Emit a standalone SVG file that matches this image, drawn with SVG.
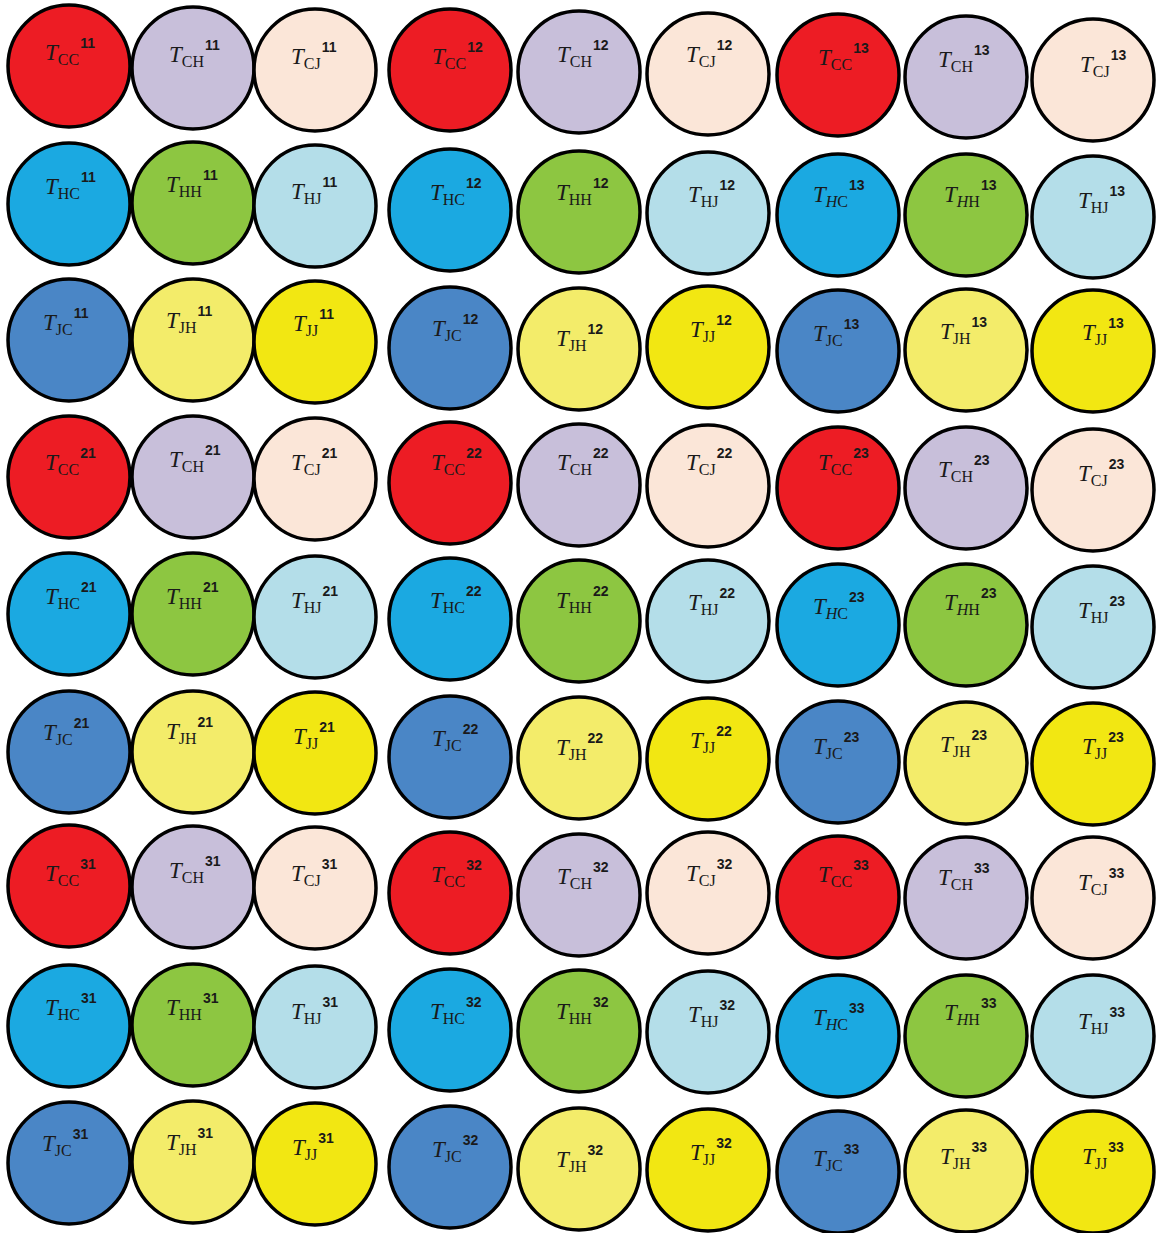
<svg xmlns="http://www.w3.org/2000/svg" width="1159" height="1233" viewBox="0 0 1159 1233">
<style>
circle{stroke:#000;stroke-width:3.5}
.cc{fill:#ED1C24}.ch{fill:#C8BFDA}.cj{fill:#FBE6D8}
.hc{fill:#1BA9E1}.hh{fill:#8DC641}.hj{fill:#B4DEE9}
.jc{fill:#4A86C6}.jh{fill:#F3EC6A}.jj{fill:#F2E712}
text{font-family:"Liberation Serif",serif;font-size:23px;font-style:italic;fill:#1a1a1a}
.s{font-style:normal;font-size:16px}
.i{font-style:italic}
.p{font-family:"Liberation Sans",sans-serif;font-size:14px;font-weight:bold;font-style:normal}
</style>
<g id="nodes">
<g id="n-CC-11"><circle class="cc" cx="69" cy="66" r="61"/><text x="45" y="60">T<tspan class="s" dy="5">CC</tspan><tspan class="p" dx="1" dy="-17">11</tspan></text></g>
<g id="n-CH-11"><circle class="ch" cx="193" cy="68" r="61"/><text x="169" y="62">T<tspan class="s" dy="5">CH</tspan><tspan class="p" dx="1" dy="-17">11</tspan></text></g>
<g id="n-CJ-11"><circle class="cj" cx="315" cy="70" r="61"/><text x="291" y="64">T<tspan class="s" dy="5">CJ</tspan><tspan class="p" dx="1" dy="-17">11</tspan></text></g>
<g id="n-CC-12"><circle class="cc" cx="450" cy="70" r="61"/><text x="432" y="64">T<tspan class="s" dy="5">CC</tspan><tspan class="p" dx="1" dy="-17">12</tspan></text></g>
<g id="n-CH-12"><circle class="ch" cx="579" cy="72" r="61"/><text x="557" y="62">T<tspan class="s" dy="5">CH</tspan><tspan class="p" dx="1" dy="-17">12</tspan></text></g>
<g id="n-CJ-12"><circle class="cj" cx="708" cy="74" r="61"/><text x="686" y="62">T<tspan class="s" dy="5">CJ</tspan><tspan class="p" dx="1" dy="-17">12</tspan></text></g>
<g id="n-CC-13"><circle class="cc" cx="838" cy="75" r="61"/><text x="818" y="65">T<tspan class="s" dy="5">CC</tspan><tspan class="p" dx="1" dy="-17">13</tspan></text></g>
<g id="n-CH-13"><circle class="ch" cx="966" cy="77" r="61"/><text x="938" y="67">T<tspan class="s" dy="5">CH</tspan><tspan class="p" dx="1" dy="-17">13</tspan></text></g>
<g id="n-CJ-13"><circle class="cj" cx="1093" cy="80" r="61"/><text x="1080" y="72">T<tspan class="s" dy="5">CJ</tspan><tspan class="p" dx="1" dy="-17">13</tspan></text></g>

<g id="n-HC-11"><circle class="hc" cx="69" cy="204" r="61"/><text x="45" y="194">T<tspan class="s" dy="5">HC</tspan><tspan class="p" dx="1" dy="-17">11</tspan></text></g>
<g id="n-HH-11"><circle class="hh" cx="193" cy="203" r="61"/><text x="166" y="192">T<tspan class="s" dy="5">HH</tspan><tspan class="p" dx="1" dy="-17">11</tspan></text></g>
<g id="n-HJ-11"><circle class="hj" cx="315" cy="206" r="61"/><text x="291" y="199">T<tspan class="s" dy="5">HJ</tspan><tspan class="p" dx="1" dy="-17">11</tspan></text></g>
<g id="n-HC-12"><circle class="hc" cx="450" cy="210" r="61"/><text x="430" y="200">T<tspan class="s" dy="5">HC</tspan><tspan class="p" dx="1" dy="-17">12</tspan></text></g>
<g id="n-HH-12"><circle class="hh" cx="579" cy="212" r="61"/><text x="556" y="200">T<tspan class="s" dy="5">HH</tspan><tspan class="p" dx="1" dy="-17">12</tspan></text></g>
<g id="n-HJ-12"><circle class="hj" cx="708" cy="213" r="61"/><text x="688" y="202">T<tspan class="s" dy="5">HJ</tspan><tspan class="p" dx="1" dy="-17">12</tspan></text></g>
<g id="n-HC-13"><circle class="hc" cx="838" cy="215" r="61"/><text x="813" y="202">T<tspan class="s" dy="5"><tspan class="i">H</tspan>C</tspan><tspan class="p" dx="1" dy="-17">13</tspan></text></g>
<g id="n-HH-13"><circle class="hh" cx="966" cy="215" r="61"/><text x="944" y="202">T<tspan class="s" dy="5"><tspan class="i">H</tspan>H</tspan><tspan class="p" dx="1" dy="-17">13</tspan></text></g>
<g id="n-HJ-13"><circle class="hj" cx="1093" cy="217" r="61"/><text x="1078" y="208">T<tspan class="s" dy="5">HJ</tspan><tspan class="p" dx="1" dy="-17">13</tspan></text></g>

<g id="n-JC-11"><circle class="jc" cx="69" cy="340" r="61"/><text x="43" y="330">T<tspan class="s" dy="5">JC</tspan><tspan class="p" dx="1" dy="-17">11</tspan></text></g>
<g id="n-JH-11"><circle class="jh" cx="193" cy="340" r="61"/><text x="166" y="328">T<tspan class="s" dy="5">JH</tspan><tspan class="p" dx="1" dy="-17">11</tspan></text></g>
<g id="n-JJ-11"><circle class="jj" cx="315" cy="342" r="61"/><text x="293" y="331">T<tspan class="s" dy="5">JJ</tspan><tspan class="p" dx="1" dy="-17">11</tspan></text></g>
<g id="n-JC-12"><circle class="jc" cx="450" cy="348" r="61"/><text x="432" y="336">T<tspan class="s" dy="5">JC</tspan><tspan class="p" dx="1" dy="-17">12</tspan></text></g>
<g id="n-JH-12"><circle class="jh" cx="579" cy="349" r="61"/><text x="556" y="346">T<tspan class="s" dy="5">JH</tspan><tspan class="p" dx="1" dy="-17">12</tspan></text></g>
<g id="n-JJ-12"><circle class="jj" cx="708" cy="347" r="61"/><text x="690" y="337">T<tspan class="s" dy="5">JJ</tspan><tspan class="p" dx="1" dy="-17">12</tspan></text></g>
<g id="n-JC-13"><circle class="jc" cx="838" cy="351" r="61"/><text x="813" y="341">T<tspan class="s" dy="5">JC</tspan><tspan class="p" dx="1" dy="-17">13</tspan></text></g>
<g id="n-JH-13"><circle class="jh" cx="966" cy="350" r="61"/><text x="940" y="339">T<tspan class="s" dy="5">JH</tspan><tspan class="p" dx="1" dy="-17">13</tspan></text></g>
<g id="n-JJ-13"><circle class="jj" cx="1093" cy="351" r="61"/><text x="1082" y="340">T<tspan class="s" dy="5">JJ</tspan><tspan class="p" dx="1" dy="-17">13</tspan></text></g>

<g id="n-CC-21"><circle class="cc" cx="69" cy="477" r="61"/><text x="45" y="470">T<tspan class="s" dy="5">CC</tspan><tspan class="p" dx="1" dy="-17">21</tspan></text></g>
<g id="n-CH-21"><circle class="ch" cx="193" cy="477" r="61"/><text x="169" y="467">T<tspan class="s" dy="5">CH</tspan><tspan class="p" dx="1" dy="-17">21</tspan></text></g>
<g id="n-CJ-21"><circle class="cj" cx="315" cy="479" r="61"/><text x="291" y="470">T<tspan class="s" dy="5">CJ</tspan><tspan class="p" dx="1" dy="-17">21</tspan></text></g>
<g id="n-CC-22"><circle class="cc" cx="450" cy="483" r="61"/><text x="431" y="470">T<tspan class="s" dy="5">CC</tspan><tspan class="p" dx="1" dy="-17">22</tspan></text></g>
<g id="n-CH-22"><circle class="ch" cx="579" cy="485" r="61"/><text x="557" y="470">T<tspan class="s" dy="5">CH</tspan><tspan class="p" dx="1" dy="-17">22</tspan></text></g>
<g id="n-CJ-22"><circle class="cj" cx="708" cy="486" r="61"/><text x="686" y="470">T<tspan class="s" dy="5">CJ</tspan><tspan class="p" dx="1" dy="-17">22</tspan></text></g>
<g id="n-CC-23"><circle class="cc" cx="838" cy="488" r="61"/><text x="818" y="470">T<tspan class="s" dy="5">CC</tspan><tspan class="p" dx="1" dy="-17">23</tspan></text></g>
<g id="n-CH-23"><circle class="ch" cx="966" cy="488" r="61"/><text x="938" y="477">T<tspan class="s" dy="5">CH</tspan><tspan class="p" dx="1" dy="-17">23</tspan></text></g>
<g id="n-CJ-23"><circle class="cj" cx="1093" cy="490" r="61"/><text x="1078" y="481">T<tspan class="s" dy="5">CJ</tspan><tspan class="p" dx="1" dy="-17">23</tspan></text></g>

<g id="n-HC-21"><circle class="hc" cx="69" cy="614" r="61"/><text x="45" y="604">T<tspan class="s" dy="5">HC</tspan><tspan class="p" dx="1" dy="-17">21</tspan></text></g>
<g id="n-HH-21"><circle class="hh" cx="193" cy="614" r="61"/><text x="166" y="604">T<tspan class="s" dy="5">HH</tspan><tspan class="p" dx="1" dy="-17">21</tspan></text></g>
<g id="n-HJ-21"><circle class="hj" cx="315" cy="617" r="61"/><text x="291" y="608">T<tspan class="s" dy="5">HJ</tspan><tspan class="p" dx="1" dy="-17">21</tspan></text></g>
<g id="n-HC-22"><circle class="hc" cx="450" cy="619" r="61"/><text x="430" y="608">T<tspan class="s" dy="5">HC</tspan><tspan class="p" dx="1" dy="-17">22</tspan></text></g>
<g id="n-HH-22"><circle class="hh" cx="579" cy="621" r="61"/><text x="556" y="608">T<tspan class="s" dy="5">HH</tspan><tspan class="p" dx="1" dy="-17">22</tspan></text></g>
<g id="n-HJ-22"><circle class="hj" cx="708" cy="621" r="61"/><text x="688" y="610">T<tspan class="s" dy="5">HJ</tspan><tspan class="p" dx="1" dy="-17">22</tspan></text></g>
<g id="n-HC-23"><circle class="hc" cx="838" cy="625" r="61"/><text x="813" y="614">T<tspan class="s" dy="5"><tspan class="i">H</tspan>C</tspan><tspan class="p" dx="1" dy="-17">23</tspan></text></g>
<g id="n-HH-23"><circle class="hh" cx="966" cy="625" r="61"/><text x="944" y="610">T<tspan class="s" dy="5"><tspan class="i">H</tspan>H</tspan><tspan class="p" dx="1" dy="-17">23</tspan></text></g>
<g id="n-HJ-23"><circle class="hj" cx="1093" cy="627" r="61"/><text x="1078" y="618">T<tspan class="s" dy="5">HJ</tspan><tspan class="p" dx="1" dy="-17">23</tspan></text></g>

<g id="n-JC-21"><circle class="jc" cx="69" cy="752" r="61"/><text x="43" y="740">T<tspan class="s" dy="5">JC</tspan><tspan class="p" dx="1" dy="-17">21</tspan></text></g>
<g id="n-JH-21"><circle class="jh" cx="193" cy="752" r="61"/><text x="166" y="739">T<tspan class="s" dy="5">JH</tspan><tspan class="p" dx="1" dy="-17">21</tspan></text></g>
<g id="n-JJ-21"><circle class="jj" cx="315" cy="753" r="61"/><text x="293" y="744">T<tspan class="s" dy="5">JJ</tspan><tspan class="p" dx="1" dy="-17">21</tspan></text></g>
<g id="n-JC-22"><circle class="jc" cx="450" cy="757" r="61"/><text x="432" y="746">T<tspan class="s" dy="5">JC</tspan><tspan class="p" dx="1" dy="-17">22</tspan></text></g>
<g id="n-JH-22"><circle class="jh" cx="579" cy="758" r="61"/><text x="556" y="755">T<tspan class="s" dy="5">JH</tspan><tspan class="p" dx="1" dy="-17">22</tspan></text></g>
<g id="n-JJ-22"><circle class="jj" cx="708" cy="759" r="61"/><text x="690" y="748">T<tspan class="s" dy="5">JJ</tspan><tspan class="p" dx="1" dy="-17">22</tspan></text></g>
<g id="n-JC-23"><circle class="jc" cx="838" cy="762" r="61"/><text x="813" y="754">T<tspan class="s" dy="5">JC</tspan><tspan class="p" dx="1" dy="-17">23</tspan></text></g>
<g id="n-JH-23"><circle class="jh" cx="966" cy="763" r="61"/><text x="940" y="752">T<tspan class="s" dy="5">JH</tspan><tspan class="p" dx="1" dy="-17">23</tspan></text></g>
<g id="n-JJ-23"><circle class="jj" cx="1093" cy="764" r="61"/><text x="1082" y="754">T<tspan class="s" dy="5">JJ</tspan><tspan class="p" dx="1" dy="-17">23</tspan></text></g>

<g id="n-CC-31"><circle class="cc" cx="69" cy="886" r="61"/><text x="45" y="881">T<tspan class="s" dy="5">CC</tspan><tspan class="p" dx="1" dy="-17">31</tspan></text></g>
<g id="n-CH-31"><circle class="ch" cx="193" cy="887" r="61"/><text x="169" y="878">T<tspan class="s" dy="5">CH</tspan><tspan class="p" dx="1" dy="-17">31</tspan></text></g>
<g id="n-CJ-31"><circle class="cj" cx="315" cy="888" r="61"/><text x="291" y="881">T<tspan class="s" dy="5">CJ</tspan><tspan class="p" dx="1" dy="-17">31</tspan></text></g>
<g id="n-CC-32"><circle class="cc" cx="450" cy="893" r="61"/><text x="431" y="882">T<tspan class="s" dy="5">CC</tspan><tspan class="p" dx="1" dy="-17">32</tspan></text></g>
<g id="n-CH-32"><circle class="ch" cx="579" cy="895" r="61"/><text x="557" y="884">T<tspan class="s" dy="5">CH</tspan><tspan class="p" dx="1" dy="-17">32</tspan></text></g>
<g id="n-CJ-32"><circle class="cj" cx="708" cy="893" r="61"/><text x="686" y="881">T<tspan class="s" dy="5">CJ</tspan><tspan class="p" dx="1" dy="-17">32</tspan></text></g>
<g id="n-CC-33"><circle class="cc" cx="838" cy="897" r="61"/><text x="818" y="882">T<tspan class="s" dy="5">CC</tspan><tspan class="p" dx="1" dy="-17">33</tspan></text></g>
<g id="n-CH-33"><circle class="ch" cx="966" cy="898" r="61"/><text x="938" y="885">T<tspan class="s" dy="5">CH</tspan><tspan class="p" dx="1" dy="-17">33</tspan></text></g>
<g id="n-CJ-33"><circle class="cj" cx="1093" cy="898" r="61"/><text x="1078" y="890">T<tspan class="s" dy="5">CJ</tspan><tspan class="p" dx="1" dy="-17">33</tspan></text></g>

<g id="n-HC-31"><circle class="hc" cx="69" cy="1026" r="61"/><text x="45" y="1015">T<tspan class="s" dy="5">HC</tspan><tspan class="p" dx="1" dy="-17">31</tspan></text></g>
<g id="n-HH-31"><circle class="hh" cx="193" cy="1025" r="61"/><text x="166" y="1015">T<tspan class="s" dy="5">HH</tspan><tspan class="p" dx="1" dy="-17">31</tspan></text></g>
<g id="n-HJ-31"><circle class="hj" cx="315" cy="1027" r="61"/><text x="291" y="1019">T<tspan class="s" dy="5">HJ</tspan><tspan class="p" dx="1" dy="-17">31</tspan></text></g>
<g id="n-HC-32"><circle class="hc" cx="450" cy="1030" r="61"/><text x="430" y="1019">T<tspan class="s" dy="5">HC</tspan><tspan class="p" dx="1" dy="-17">32</tspan></text></g>
<g id="n-HH-32"><circle class="hh" cx="579" cy="1031" r="61"/><text x="556" y="1019">T<tspan class="s" dy="5">HH</tspan><tspan class="p" dx="1" dy="-17">32</tspan></text></g>
<g id="n-HJ-32"><circle class="hj" cx="708" cy="1032" r="61"/><text x="688" y="1022">T<tspan class="s" dy="5">HJ</tspan><tspan class="p" dx="1" dy="-17">32</tspan></text></g>
<g id="n-HC-33"><circle class="hc" cx="838" cy="1036" r="61"/><text x="813" y="1025">T<tspan class="s" dy="5"><tspan class="i">H</tspan>C</tspan><tspan class="p" dx="1" dy="-17">33</tspan></text></g>
<g id="n-HH-33"><circle class="hh" cx="966" cy="1036" r="61"/><text x="944" y="1020">T<tspan class="s" dy="5"><tspan class="i">H</tspan>H</tspan><tspan class="p" dx="1" dy="-17">33</tspan></text></g>
<g id="n-HJ-33"><circle class="hj" cx="1093" cy="1036" r="61"/><text x="1078" y="1029">T<tspan class="s" dy="5">HJ</tspan><tspan class="p" dx="1" dy="-17">33</tspan></text></g>

<g id="n-JC-31"><circle class="jc" cx="69" cy="1163" r="61"/><text x="42" y="1151">T<tspan class="s" dy="5">JC</tspan><tspan class="p" dx="1" dy="-17">31</tspan></text></g>
<g id="n-JH-31"><circle class="jh" cx="193" cy="1162" r="61"/><text x="166" y="1150">T<tspan class="s" dy="5">JH</tspan><tspan class="p" dx="1" dy="-17">31</tspan></text></g>
<g id="n-JJ-31"><circle class="jj" cx="315" cy="1164" r="61"/><text x="292" y="1155">T<tspan class="s" dy="5">JJ</tspan><tspan class="p" dx="1" dy="-17">31</tspan></text></g>
<g id="n-JC-32"><circle class="jc" cx="450" cy="1167" r="61"/><text x="432" y="1157">T<tspan class="s" dy="5">JC</tspan><tspan class="p" dx="1" dy="-17">32</tspan></text></g>
<g id="n-JH-32"><circle class="jh" cx="579" cy="1169" r="61"/><text x="556" y="1167">T<tspan class="s" dy="5">JH</tspan><tspan class="p" dx="1" dy="-17">32</tspan></text></g>
<g id="n-JJ-32"><circle class="jj" cx="708" cy="1170" r="61"/><text x="690" y="1160">T<tspan class="s" dy="5">JJ</tspan><tspan class="p" dx="1" dy="-17">32</tspan></text></g>
<g id="n-JC-33"><circle class="jc" cx="838" cy="1172" r="61"/><text x="813" y="1166">T<tspan class="s" dy="5">JC</tspan><tspan class="p" dx="1" dy="-17">33</tspan></text></g>
<g id="n-JH-33"><circle class="jh" cx="966" cy="1171" r="61"/><text x="940" y="1164">T<tspan class="s" dy="5">JH</tspan><tspan class="p" dx="1" dy="-17">33</tspan></text></g>
<g id="n-JJ-33"><circle class="jj" cx="1093" cy="1172" r="61"/><text x="1082" y="1164">T<tspan class="s" dy="5">JJ</tspan><tspan class="p" dx="1" dy="-17">33</tspan></text></g>
</g>
<g id="connectors"/>
</svg>
